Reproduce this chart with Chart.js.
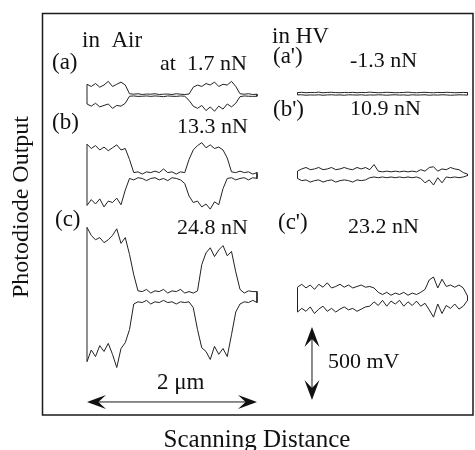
<!DOCTYPE html>
<html>
<head>
<meta charset="utf-8">
<script src="https://cdn.jsdelivr.net/npm/chart.js@4.4.1/dist/chart.umd.min.js"></script>
<style>
  html, body { margin: 0; padding: 0; background: #fff; }
  #wrap { width: 475px; height: 450px; }
</style>
</head>
<body>
<div id="wrap"><canvas id="friction_chart" width="475" height="450"></canvas></div>
<script>
// scan position along each trace (um)
var sampleUm = [0, 0.05, 0.1, 0.15, 0.2, 0.25, 0.3, 0.35, 0.4, 0.45,
                0.5, 0.55, 0.6, 0.65, 0.7, 0.75, 0.8, 0.85, 0.9, 0.95,
                1.0, 1.05, 1.1, 1.15, 1.2, 1.25, 1.3, 1.35, 1.4, 1.45,
                1.5, 1.55, 1.6, 1.65, 1.7, 1.75, 1.8, 1.85, 1.9, 1.95, 2.0];

// photodiode output (mV, relative to each trace's centre) - in Air
var airA_fwd = [75, 60, 80, 55, 70, 95, 60, 75, 90, 70, 10, 7, 10, 5, 8, 7, 10, 5, 7, 8, 5, 10, 7, 5, 8,
                55, 70, 60, 80, 70, 90, 60, 75, 70, 95, 60, 10, 7, 10, 5, 7];
var airA_bwd = [-60, -75, -55, -80, -70, -60, -90, -70, -75, -55, -7, -5, -8, -7, -5, -8, -5, -7, -10, -5, -7, -8, -5, -7, -35,
                -75, -90, -70, -105, -80, -110, -75, -95, -60, -80, -55, -10, -5, -7, -8, -7];
var airB_fwd = [210, 180, 200, 170, 190, 165, 185, 205, 170, 180, 105, 15, 20, 5, 20, 15, 25, 15, 40, 15, 20, 5, 20, 15, 105,
                170, 200, 220, 185, 205, 180, 190, 170, 115, 20, 15, 25, 15, 20, 5, 15];
var airB_bwd = [-210, -170, -200, -165, -220, -180, -190, -160, -205, -105, -25, -35, -20, -25, -40, -25, -20, -35, -25, -40,
                -20, -25, -35, -60, -145, -190, -180, -220, -200, -235, -185, -205, -95, -25, -20, -35, -25, -20, -35, -20, -25];
var airC_fwd = [475, 420, 390, 405, 370, 390, 420, 465, 365, 405, 290, 150, 40, 35, 50, 25, 40, 35, 50, 25,
                40, 35, 50, 25, 35, 25, 40, 220, 300, 335, 275, 320, 350, 280, 310, 170, 50, 25, 40, 35, 35];
var airC_bwd = [-445, -365, -410, -335, -375, -320, -395, -485, -355, -315, -225, -50, -35, -40, -25, -50, -35, -40, -25, -40,
                -35, -50, -35, -40, -35, -75, -225, -350, -375, -430, -340, -395, -355, -410, -260, -105, -50, -35, -40, -25, -40];

// in HV
var hvA_fwd = [8, 10, 7, 9, 8, 11, 7, 9, 10, 8, 7, 9, 8, 10, 7, 9, 8, 11, 9, 7, 8, 10, 9, 7, 8, 9, 11, 8, 7, 9,
               10, 8, 7, 9, 8, 10, 9, 7, 8, 9, 8];
var hvA_bwd = [-8, -7, -10, -8, -9, -7, -10, -8, -7, -9, -8, -10, -7, -8, -9, -7, -10, -8, -9, -7, -8, -10, -8, -7, -9,
               -8, -10, -7, -9, -8, -7, -10, -8, -9, -7, -8, -10, -9, -7, -8, -9];
var hvB_fwd = [25, 40, 50, 35, 40, 50, 35, 40, 50, 35, 40, 50, 40, 35, 50, 40, 50, 35, 70, 25, 20, 25, 20, 25, 20,
               25, 20, 25, 20, 35, 25, 50, 55, 25, 40, 35, 50, 40, 35, 15, 5];
var hvB_bwd = [-25, -40, -35, -50, -40, -35, -50, -40, -35, -50, -40, -35, -40, -50, -35, -40, -35, -20, -15, -20,
               -15, -20, -15, -20, -15, -20, -15, -20, -15, -25, -55, -35, -70, -20, -55, -15, -20, -15, -20, -15, -5];
var hvC_fwd = [75, 95, 70, 90, 60, 95, 75, 105, 70, 80, 95, 75, 90, 70, 80, 90, 75, 80, 70, 40, 25, 40, 20, 35, 25,
               40, 20, 35, 25, 40, 60, 125, 145, 70, 130, 80, 90, 75, 90, 70, 15];
var hvC_bwd = [-95, -70, -90, -60, -105, -75, -55, -90, -70, -95, -75, -60, -80, -70, -90, -75, -60, -55, -25, -50,
               -15, -55, -20, -40, -15, -55, -25, -50, -20, -55, -35, -80, -130, -40, -105, -50, -70, -40, -75, -55, -15];

var airLabels = ["(a)", "(b)", "(c)"];
var airLoads = ["at  1.7 nN", "13.3 nN", "24.8 nN"];
var hvLabels = ["(a')", "(b')", "(c')"];
var hvLoads = ["-1.3 nN", "10.9 nN", "23.2 nN"];
var scaleBarUm = 2;     // horizontal bar
var scaleBarMv = 500;   // vertical bar

// layout (scales are set so the whole canvas is the plot area)
var PX_PER_UM = 85;
var MV_PER_PX = 500 / 73;
var X0_PX = 87;
var HV_X_UM = 210.5 / PX_PER_UM;
var airOffsets = [2430, 1885, 1050];
var hvOffsets = [2440, 1885, 1040];

function make_loop(fwd, bwd, xStart, yOff){
    var pts = [];
    for (var i = 0; i < fwd.length; i++) {
        pts.push({x: xStart + sampleUm[i], y: yOff + fwd[i]});
    }
    for (var j = bwd.length - 1; j >= 0; j--) {
        pts.push({x: xStart + sampleUm[j], y: yOff + bwd[j]});
    }
    pts.push(pts[0]);
    return pts;
}

var loops = [
    make_loop(airA_fwd, airA_bwd, 0, airOffsets[0]),
    make_loop(airB_fwd, airB_bwd, 0, airOffsets[1]),
    make_loop(airC_fwd, airC_bwd, 0, airOffsets[2]),
    make_loop(hvA_fwd, hvA_bwd, HV_X_UM, hvOffsets[0]),
    make_loop(hvB_fwd, hvB_bwd, HV_X_UM, hvOffsets[1]),
    make_loop(hvC_fwd, hvC_bwd, HV_X_UM, hvOffsets[2])
];

var SERIF = '"Liberation Serif", "DejaVu Serif", serif';

function arrow_head(ctx, tipX, tipY, dirX, dirY, len, half){
    var px = -dirY, py = dirX;
    ctx.beginPath();
    ctx.moveTo(tipX, tipY);
    ctx.lineTo(tipX - dirX * len + px * half, tipY - dirY * len + py * half);
    ctx.lineTo(tipX - dirX * len * 0.6, tipY - dirY * len * 0.6);
    ctx.lineTo(tipX - dirX * len - px * half, tipY - dirY * len - py * half);
    ctx.closePath();
    ctx.fill();
}

var figurePlugin = {
    id: 'figure_decor',
    afterDraw: function(chart){
        var ctx = chart.ctx;
        var xs = chart.scales.x, ys = chart.scales.y;
        ctx.save();
        ctx.strokeStyle = '#1a1a1a';
        ctx.fillStyle = '#111';

        // frame
        ctx.lineWidth = 1.5;
        ctx.strokeRect(42.5, 13.5, 430.5, 401.5);

        // texts
        ctx.textBaseline = 'alphabetic';
        ctx.textAlign = 'left';
        ctx.font = '23px ' + SERIF;
        ctx.fillText('in  Air', 82, 47);
        ctx.fillText('in HV', 272, 43);
        ctx.fillText(airLabels[0], 52, 69);
        ctx.fillText(airLabels[1], 52, 129);
        ctx.fillText(airLabels[2], 55, 226);
        ctx.fillText(hvLabels[0], 273, 63);
        ctx.fillText(hvLabels[1], 273, 116);
        ctx.fillText(hvLabels[2], 278, 229);
        ctx.font = '22px ' + SERIF;
        ctx.fillText(airLoads[0], 160, 70);
        ctx.fillText(airLoads[1], 177, 133);
        ctx.fillText(airLoads[2], 177, 234);
        ctx.fillText(hvLoads[0], 350, 67);
        ctx.fillText(hvLoads[1], 350, 115);
        ctx.fillText(hvLoads[2], 348, 233);
        ctx.fillText(scaleBarMv + ' mV', 328, 368);
        ctx.font = '23px ' + SERIF;
        ctx.fillText(scaleBarUm + ' \u03bcm', 157, 389);

        // axis titles
        ctx.font = '25px ' + SERIF;
        ctx.textAlign = 'center';
        ctx.fillText('Scanning Distance', 257, 447);
        ctx.font = '24px ' + SERIF;
        ctx.save();
        ctx.translate(28, 207);
        ctx.rotate(-Math.PI / 2);
        ctx.fillText('Photodiode Output', 0, 0);
        ctx.restore();

        // 2 um scale arrow
        var hy = ys.getPixelForValue(329);
        var hx1 = xs.getPixelForValue(0), hx2 = xs.getPixelForValue(scaleBarUm);
        ctx.lineWidth = 1;
        ctx.beginPath();
        ctx.moveTo(hx1 + 10, hy);
        ctx.lineTo(hx2 - 10, hy);
        ctx.stroke();
        arrow_head(ctx, hx1, hy, -1, 0, 19, 7);
        arrow_head(ctx, hx2, hy, 1, 0, 19, 7);

        // 500 mV scale arrow
        var vx = xs.getPixelForValue(2.647);
        var vy1 = ys.getPixelForValue(342), vy2 = ys.getPixelForValue(342 + scaleBarMv);
        ctx.beginPath();
        ctx.moveTo(vx, vy1 - 10);
        ctx.lineTo(vx, vy2 + 10);
        ctx.stroke();
        arrow_head(ctx, vx, vy1, 0, 1, 20, 7.5);
        arrow_head(ctx, vx, vy2, 0, -1, 20, 7.5);
        ctx.restore();
    }
};

var bgPlugin = {
    id: 'white_bg',
    beforeDraw: function(chart){
        var ctx = chart.ctx;
        ctx.save();
        ctx.fillStyle = '#fff';
        ctx.fillRect(0, 0, chart.width, chart.height);
        ctx.restore();
    }
};

new Chart(document.getElementById("friction_chart"), {
    type: 'scatter',
    data: {
        datasets: loops.map(function(pts){
            return {
                data: pts,
                showLine: true,
                borderColor: '#222',
                borderWidth: 1,
                pointRadius: 0,
                tension: 0,
                fill: false
            };
        })
    },
    options: {
        responsive: false,
        animation: false,
        devicePixelRatio: 1,
        layout: { padding: 0 },
        scales: {
            x: { type: 'linear', display: false, min: -X0_PX / PX_PER_UM, max: (475 - X0_PX) / PX_PER_UM },
            y: { type: 'linear', display: false, min: 0, max: 450 * MV_PER_PX }
        },
        plugins: {
            legend: { display: false },
            tooltip: { enabled: false }
        }
    },
    plugins: [bgPlugin, figurePlugin]
});
</script>
</body>
</html>
